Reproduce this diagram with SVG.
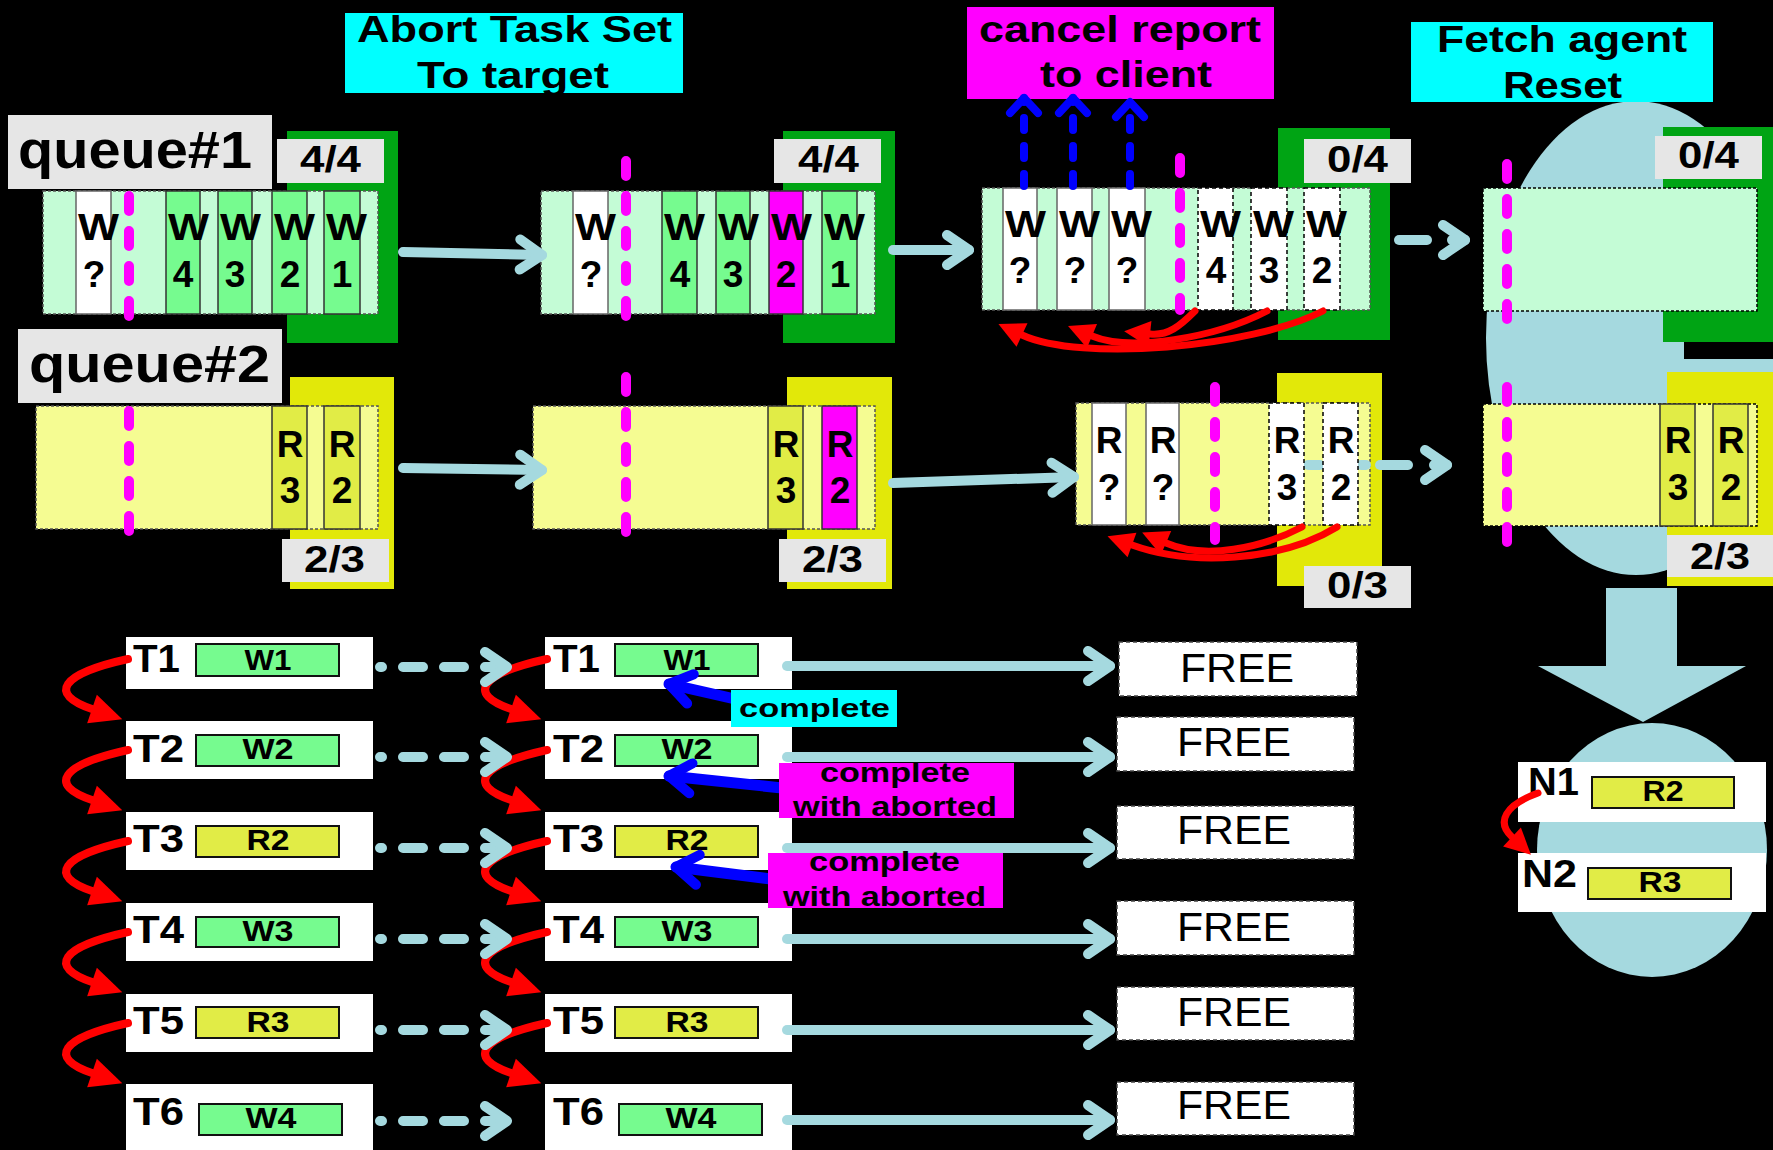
<svg xmlns="http://www.w3.org/2000/svg" width="1773" height="1150" viewBox="0 0 1773 1150">
<defs>
<style>
text{font-family:"Liberation Sans",Arial,sans-serif;font-weight:bold;fill:#000}
.t37{font-size:37px}
.t38{font-size:38px}
.t30{font-size:30px}
.mid{text-anchor:middle}
.reg{font-weight:normal}
.lbl{fill:#e6e6e6}
.cyan{fill:#00ffff}
.mag{fill:#ff00ff}
.gbr{fill:#00a414}
.ybr{fill:#e2e809}
.gstrip{fill:#c4fcd6;stroke:#555;stroke-width:1.5;stroke-dasharray:3 2}
.ystrip{fill:#f5fc92;stroke:#555;stroke-width:1.5;stroke-dasharray:3 2}
.gcell{fill:#76fb8f;stroke:#333;stroke-width:1.5}
.wcell{fill:#fff;stroke:#666;stroke-width:1.5}
.wcelld{fill:#fff;stroke:#000;stroke-width:1.5;stroke-dasharray:4 3}
.ycell{fill:#e1ec46;stroke:#333;stroke-width:1.5}
.mcell{fill:#ff00ff;stroke:#333;stroke-width:1.5}
.mdash{stroke:#ff00ff;stroke-width:10;stroke-linecap:round;stroke-dasharray:15 20;fill:none}
.lb{stroke:#a5d9df;stroke-width:10;stroke-linecap:round;fill:none}
.lbd{stroke:#a5d9df;stroke-width:10;stroke-linecap:round;fill:none;stroke-dasharray:20 21;stroke-dashoffset:18}
.red{stroke:#ff0000;stroke-width:8;fill:none;stroke-linecap:round}
.red6{stroke:#ff0000;stroke-width:7;fill:none;stroke-linecap:round}
.blue{stroke:#0000ff;stroke-width:11;fill:none;stroke-linecap:round}
.bdash{stroke:#0000ff;stroke-width:8;fill:none;stroke-linecap:round;stroke-dasharray:12 16}
.tbox{fill:#fff}
.gbar{fill:#76fb8f;stroke:#111;stroke-width:2}
.ybar{fill:#e1ec46;stroke:#111;stroke-width:2}
.free{fill:#fff;stroke:#444;stroke-width:1.5;stroke-dasharray:4 3}
.sky{fill:#a5d9df}
</style>
<marker id="lbHead" markerUnits="userSpaceOnUse" viewBox="-30 -20 40 40" markerWidth="40" markerHeight="40" refX="0" refY="0" orient="auto" overflow="visible">
<path d="M-22,-15 L0,0 L-22,15" fill="none" stroke="#a5d9df" stroke-width="10" stroke-linecap="round" stroke-linejoin="round"/>
</marker>
<marker id="blueHead" markerUnits="userSpaceOnUse" viewBox="-30 -20 40 40" markerWidth="40" markerHeight="40" refX="0" refY="0" orient="auto" overflow="visible">
<path d="M-22,-15 L0,0 L-22,15" fill="none" stroke="#0000ff" stroke-width="10" stroke-linecap="round" stroke-linejoin="round"/>
</marker>
<marker id="blueSmall" markerUnits="userSpaceOnUse" viewBox="-30 -20 40 40" markerWidth="40" markerHeight="40" refX="0" refY="0" orient="auto" overflow="visible">
<path d="M-15,-14 L0,0 L-15,14" fill="none" stroke="#0000ff" stroke-width="8" stroke-linecap="round" stroke-linejoin="round"/>
</marker>
<marker id="redBig" markerUnits="userSpaceOnUse" viewBox="-5 -20 45 40" markerWidth="45" markerHeight="40" refX="0" refY="0" orient="auto" overflow="visible">
<path d="M0,-15 L32,0 L0,15 z" fill="#ff0000"/>
</marker>
<marker id="redSmall" markerUnits="userSpaceOnUse" viewBox="-5 -20 45 40" markerWidth="45" markerHeight="40" refX="0" refY="0" orient="auto" overflow="visible">
<path d="M0,-13 L26,0 L0,13 z" fill="#ff0000"/>
</marker>
</defs>
<rect x="0" y="0" width="1773" height="1150" fill="#000"/>

<!-- background shapes -->
<g id="reset-ellipse">
<ellipse class="sky" cx="1636" cy="338" rx="150" ry="237"/>
</g>
<g id="reset-arrow">
<polygon class="sky" points="1606,588 1677,588 1677,666 1746,666 1643,722 1538,666 1606,666"/>
</g>
<g id="new-ellipse">
<ellipse class="sky" cx="1652" cy="850" rx="115" ry="127"/>
</g>

<!-- titles -->
<g id="abort-label">
<rect class="cyan" x="345" y="13" width="338" height="80"/>
<text class="t37" x="357" y="42" textLength="315" lengthAdjust="spacingAndGlyphs">Abort Task Set</text>
<text class="t37" x="417" y="88" textLength="192" lengthAdjust="spacingAndGlyphs">To target</text>
</g>
<g id="cancel-label">
<rect class="mag" x="967" y="7" width="307" height="92"/>
<text class="t37" x="979" y="42" textLength="282" lengthAdjust="spacingAndGlyphs">cancel report</text>
<text class="t37" x="1040" y="87" textLength="172" lengthAdjust="spacingAndGlyphs">to client</text>
</g>
<g id="fetch-label">
<rect class="cyan" x="1411" y="22" width="302" height="80"/>
<text class="t37" x="1437" y="52" textLength="250" lengthAdjust="spacingAndGlyphs">Fetch agent</text>
<text class="t37" x="1503" y="98" textLength="119" lengthAdjust="spacingAndGlyphs">Reset</text>
</g>
<g id="queue1-label">
<rect class="lbl" x="8" y="115" width="264" height="74"/>
<text x="18" y="168" font-size="51" textLength="234" lengthAdjust="spacingAndGlyphs">queue#1</text>
</g>
<g id="queue2-label">
<rect class="lbl" x="18" y="329" width="264" height="74"/>
<text x="29" y="382" font-size="51" textLength="241" lengthAdjust="spacingAndGlyphs">queue#2</text>
</g>

<!-- queue 1, column 1 -->
<g id="q1-c1">
<rect class="gbr" x="287" y="131" width="111" height="212"/>
<rect class="gstrip" x="43" y="191" width="335" height="123"/>
<rect class="wcell" x="76" y="191" width="35" height="123"/>
<rect class="gcell" x="166" y="191" width="34" height="123"/>
<rect class="gcell" x="218" y="191" width="34" height="123"/>
<rect class="gcell" x="272" y="191" width="35" height="123"/>
<rect class="gcell" x="324" y="191" width="36" height="123"/>
<rect class="lbl" x="277" y="139" width="107" height="44"/>
<text class="t37" x="300" y="172" textLength="61" lengthAdjust="spacingAndGlyphs">4/4</text>
<g class="t37">
<text x="78" y="240" textLength="41" lengthAdjust="spacingAndGlyphs">W</text><text class="mid" x="94" y="287">?</text>
<text x="168" y="240" textLength="41" lengthAdjust="spacingAndGlyphs">W</text><text class="mid" x="183" y="287">4</text>
<text x="220" y="240" textLength="41" lengthAdjust="spacingAndGlyphs">W</text><text class="mid" x="235" y="287">3</text>
<text x="274" y="240" textLength="41" lengthAdjust="spacingAndGlyphs">W</text><text class="mid" x="290" y="287">2</text>
<text x="326" y="240" textLength="41" lengthAdjust="spacingAndGlyphs">W</text><text class="mid" x="342" y="287">1</text>
</g>
<line class="mdash" x1="129" y1="196" x2="129" y2="320"/>
</g>

<!-- queue 2, column 1 -->
<g id="q2-c1">
<rect class="ybr" x="290" y="377" width="104" height="212"/>
<rect class="ystrip" x="36" y="406" width="342" height="123"/>
<rect class="ycell" x="272" y="406" width="35" height="123"/>
<rect class="ycell" x="324" y="406" width="36" height="123"/>
<rect class="lbl" x="282" y="539" width="107" height="43"/>
<text class="t37" x="304" y="572" textLength="61" lengthAdjust="spacingAndGlyphs">2/3</text>
<g class="t37 mid">
<text x="290" y="457">R</text><text x="290" y="503">3</text>
<text x="342" y="457">R</text><text x="342" y="503">2</text>
</g>
<line class="mdash" x1="129" y1="411" x2="129" y2="535"/>
</g>

<!-- queue 1, column 2 -->
<g id="q1-c2">
<rect class="gbr" x="783" y="131" width="112" height="212"/>
<rect class="gstrip" x="541" y="191" width="334" height="123"/>
<rect class="wcell" x="573" y="191" width="35" height="123"/>
<rect class="gcell" x="662" y="191" width="35" height="123"/>
<rect class="gcell" x="716" y="191" width="34" height="123"/>
<rect class="mcell" x="769" y="191" width="34" height="123"/>
<rect class="gcell" x="822" y="191" width="35" height="123"/>
<rect class="lbl" x="774" y="139" width="107" height="44"/>
<text class="t37" x="798" y="172" textLength="61" lengthAdjust="spacingAndGlyphs">4/4</text>
<g class="t37">
<text x="575" y="240" textLength="41" lengthAdjust="spacingAndGlyphs">W</text><text class="mid" x="591" y="287">?</text>
<text x="664" y="240" textLength="41" lengthAdjust="spacingAndGlyphs">W</text><text class="mid" x="680" y="287">4</text>
<text x="718" y="240" textLength="41" lengthAdjust="spacingAndGlyphs">W</text><text class="mid" x="733" y="287">3</text>
<text x="771" y="240" textLength="41" lengthAdjust="spacingAndGlyphs">W</text><text class="mid" x="786" y="287">2</text>
<text x="824" y="240" textLength="41" lengthAdjust="spacingAndGlyphs">W</text><text class="mid" x="840" y="287">1</text>
</g>
<line class="mdash" x1="626" y1="161" x2="626" y2="320"/>
</g>

<!-- queue 2, column 2 -->
<g id="q2-c2">
<rect class="ybr" x="787" y="377" width="105" height="212"/>
<rect class="ystrip" x="533" y="406" width="342" height="123"/>
<rect class="ycell" x="768" y="406" width="35" height="123"/>
<rect class="mcell" x="822" y="406" width="35" height="123"/>
<rect class="lbl" x="779" y="539" width="107" height="43"/>
<text class="t37" x="802" y="572" textLength="61" lengthAdjust="spacingAndGlyphs">2/3</text>
<g class="t37 mid">
<text x="786" y="457">R</text><text x="786" y="503">3</text>
<text x="840" y="457">R</text><text x="840" y="503">2</text>
</g>
<line class="mdash" x1="626" y1="377" x2="626" y2="534"/>
</g>

<!-- queue 1, column 3 -->
<g id="q1-c3">
<rect class="gbr" x="1278" y="128" width="112" height="212"/>
<rect class="gstrip" x="982" y="188" width="388" height="122"/>
<rect class="wcell" x="1003" y="188" width="34" height="122"/>
<rect class="wcell" x="1057" y="188" width="35" height="122"/>
<rect class="wcell" x="1109" y="188" width="36" height="122"/>
<rect class="wcelld" x="1198" y="188" width="35" height="122"/>
<rect class="wcelld" x="1251" y="188" width="36" height="122"/>
<rect class="wcelld" x="1304" y="188" width="36" height="122"/>
<rect class="lbl" x="1304" y="139" width="107" height="44"/>
<text class="t37" x="1327" y="172" textLength="61" lengthAdjust="spacingAndGlyphs">0/4</text>
<g class="t37">
<text x="1005" y="237" textLength="41" lengthAdjust="spacingAndGlyphs">W</text><text class="mid" x="1020" y="283">?</text>
<text x="1059" y="237" textLength="41" lengthAdjust="spacingAndGlyphs">W</text><text class="mid" x="1075" y="283">?</text>
<text x="1111" y="237" textLength="41" lengthAdjust="spacingAndGlyphs">W</text><text class="mid" x="1127" y="283">?</text>
<text x="1200" y="237" textLength="41" lengthAdjust="spacingAndGlyphs">W</text><text class="mid" x="1216" y="283">4</text>
<text x="1253" y="237" textLength="41" lengthAdjust="spacingAndGlyphs">W</text><text class="mid" x="1269" y="283">3</text>
<text x="1306" y="237" textLength="41" lengthAdjust="spacingAndGlyphs">W</text><text class="mid" x="1322" y="283">2</text>
</g>
<line class="mdash" x1="1180" y1="158" x2="1180" y2="310"/>
</g>

<!-- queue 2, column 3 -->
<g id="q2-c3">
<rect class="ybr" x="1277" y="373" width="105" height="213"/>
<rect class="ystrip" x="1076" y="403" width="294" height="122"/>
<rect class="wcell" x="1092" y="403" width="34" height="122"/>
<rect class="wcell" x="1146" y="403" width="33" height="122"/>
<line class="lb" x1="1308" y1="465" x2="1320" y2="465"/>
<line class="lb" x1="1361" y1="465" x2="1366" y2="465"/>
<rect class="wcelld" x="1269" y="403" width="35" height="122"/>
<rect class="wcelld" x="1323" y="403" width="35" height="122"/>
<rect class="lbl" x="1304" y="566" width="107" height="42"/>
<text class="t37" x="1327" y="598" textLength="61" lengthAdjust="spacingAndGlyphs">0/3</text>
<g class="t37 mid">
<text x="1109" y="453">R</text><text x="1109" y="500">?</text>
<text x="1163" y="453">R</text><text x="1163" y="500">?</text>
<text x="1287" y="453">R</text><text x="1287" y="500">3</text>
<text x="1341" y="453">R</text><text x="1341" y="500">2</text>
</g>
<line class="mdash" x1="1215" y1="387" x2="1215" y2="540"/>
</g>

<!-- queue 1, column 4 -->
<g id="q1-c4">
<rect class="gbr" x="1663" y="127" width="110" height="215"/>
<rect x="1684" y="342" width="89" height="17" fill="#000"/>
<rect class="gstrip" x="1483" y="188" width="274" height="123" style="stroke:#000"/>
<rect class="lbl" x="1655" y="136" width="107" height="43"/>
<text class="t37" x="1678" y="168" textLength="61" lengthAdjust="spacingAndGlyphs">0/4</text>
<line class="mdash" x1="1507" y1="164" x2="1507" y2="322"/>
</g>

<!-- queue 2, column 4 -->
<g id="q2-c4">
<rect class="ybr" x="1667" y="372" width="106" height="214"/>
<rect class="ystrip" x="1483" y="404" width="274" height="122" style="stroke:#000"/>
<rect class="ycell" x="1660" y="404" width="35" height="122"/>
<rect class="ycell" x="1713" y="404" width="35" height="122"/>
<rect class="lbl" x="1667" y="535" width="106" height="42"/>
<text class="t37" x="1690" y="569" textLength="60" lengthAdjust="spacingAndGlyphs">2/3</text>
<g class="t37 mid">
<text x="1678" y="453">R</text><text x="1678" y="500">3</text>
<text x="1731" y="453">R</text><text x="1731" y="500">2</text>
</g>
<line class="mdash" x1="1507" y1="387" x2="1507" y2="542"/>
</g>

<!-- task list column 1 -->
<g id="tasks-c1">
<rect class="tbox" x="126" y="637" width="247" height="52"/>
<rect class="gbar" x="196" y="644" width="143" height="32"/>
<text class="t38" x="133" y="672" textLength="47" lengthAdjust="spacingAndGlyphs">T1</text>
<text class="t30 mid" x="268" y="670" textLength="47" lengthAdjust="spacingAndGlyphs">W1</text>
<rect class="tbox" x="126" y="721" width="247" height="58"/>
<rect class="gbar" x="196" y="735" width="143" height="31"/>
<text class="t38" x="133" y="762" textLength="51" lengthAdjust="spacingAndGlyphs">T2</text>
<text class="t30 mid" x="268" y="759" textLength="51" lengthAdjust="spacingAndGlyphs">W2</text>
<rect class="tbox" x="126" y="812" width="247" height="58"/>
<rect class="ybar" x="196" y="826" width="143" height="31"/>
<text class="t38" x="133" y="852" textLength="51" lengthAdjust="spacingAndGlyphs">T3</text>
<text class="t30 mid" x="268" y="850" textLength="43" lengthAdjust="spacingAndGlyphs">R2</text>
<rect class="tbox" x="126" y="903" width="247" height="58"/>
<rect class="gbar" x="196" y="917" width="143" height="30"/>
<text class="t38" x="133" y="943" textLength="51" lengthAdjust="spacingAndGlyphs">T4</text>
<text class="t30 mid" x="268" y="941" textLength="51" lengthAdjust="spacingAndGlyphs">W3</text>
<rect class="tbox" x="126" y="994" width="247" height="58"/>
<rect class="ybar" x="196" y="1007" width="143" height="31"/>
<text class="t38" x="133" y="1034" textLength="51" lengthAdjust="spacingAndGlyphs">T5</text>
<text class="t30 mid" x="268" y="1032" textLength="43" lengthAdjust="spacingAndGlyphs">R3</text>
<rect class="tbox" x="126" y="1084" width="247" height="70"/>
<rect class="gbar" x="199" y="1104" width="143" height="31"/>
<text class="t38" x="133" y="1125" textLength="51" lengthAdjust="spacingAndGlyphs">T6</text>
<text class="t30 mid" x="271" y="1128" textLength="51" lengthAdjust="spacingAndGlyphs">W4</text>
</g>

<!-- task list column 2 -->
<g id="tasks-c2">
<rect class="tbox" x="545" y="637" width="247" height="52"/>
<rect class="gbar" x="615" y="644" width="143" height="32"/>
<text class="t38" x="553" y="672" textLength="47" lengthAdjust="spacingAndGlyphs">T1</text>
<text class="t30 mid" x="687" y="670" textLength="47" lengthAdjust="spacingAndGlyphs">W1</text>
<rect class="tbox" x="545" y="721" width="247" height="58"/>
<rect class="gbar" x="615" y="735" width="143" height="31"/>
<text class="t38" x="553" y="762" textLength="51" lengthAdjust="spacingAndGlyphs">T2</text>
<text class="t30 mid" x="687" y="759" textLength="51" lengthAdjust="spacingAndGlyphs">W2</text>
<rect class="tbox" x="545" y="812" width="247" height="58"/>
<rect class="ybar" x="615" y="826" width="143" height="31"/>
<text class="t38" x="553" y="852" textLength="51" lengthAdjust="spacingAndGlyphs">T3</text>
<text class="t30 mid" x="687" y="850" textLength="43" lengthAdjust="spacingAndGlyphs">R2</text>
<rect class="tbox" x="545" y="903" width="247" height="58"/>
<rect class="gbar" x="615" y="917" width="143" height="30"/>
<text class="t38" x="553" y="943" textLength="51" lengthAdjust="spacingAndGlyphs">T4</text>
<text class="t30 mid" x="687" y="941" textLength="51" lengthAdjust="spacingAndGlyphs">W3</text>
<rect class="tbox" x="545" y="994" width="247" height="58"/>
<rect class="ybar" x="615" y="1007" width="143" height="31"/>
<text class="t38" x="553" y="1034" textLength="51" lengthAdjust="spacingAndGlyphs">T5</text>
<text class="t30 mid" x="687" y="1032" textLength="43" lengthAdjust="spacingAndGlyphs">R3</text>
<rect class="tbox" x="545" y="1084" width="247" height="70"/>
<rect class="gbar" x="619" y="1104" width="143" height="31"/>
<text class="t38" x="553" y="1125" textLength="51" lengthAdjust="spacingAndGlyphs">T6</text>
<text class="t30 mid" x="691" y="1128" textLength="51" lengthAdjust="spacingAndGlyphs">W4</text>
</g>

<!-- free slots -->
<g id="free-slots">
<rect class="free" x="1119" y="642" width="238" height="54"/>
<text class="reg" font-size="40" x="1180" y="682" textLength="114" lengthAdjust="spacingAndGlyphs">FREE</text>
<rect class="free" x="1117" y="717" width="237" height="54"/>
<text class="reg" font-size="40" x="1177" y="756" textLength="114" lengthAdjust="spacingAndGlyphs">FREE</text>
<rect class="free" x="1117" y="806" width="237" height="53"/>
<text class="reg" font-size="40" x="1177" y="844" textLength="114" lengthAdjust="spacingAndGlyphs">FREE</text>
<rect class="free" x="1117" y="901" width="237" height="54"/>
<text class="reg" font-size="40" x="1177" y="941" textLength="114" lengthAdjust="spacingAndGlyphs">FREE</text>
<rect class="free" x="1117" y="987" width="237" height="53"/>
<text class="reg" font-size="40" x="1177" y="1026" textLength="114" lengthAdjust="spacingAndGlyphs">FREE</text>
<rect class="free" x="1117" y="1082" width="237" height="53"/>
<text class="reg" font-size="40" x="1177" y="1119" textLength="114" lengthAdjust="spacingAndGlyphs">FREE</text>
</g>

<!-- new tasks -->
<g id="n-list">
<rect class="tbox" x="1518" y="762" width="248" height="60"/>
<rect class="ybar" x="1592" y="777" width="142" height="31"/>
<text class="t38" x="1528" y="795" textLength="51" lengthAdjust="spacingAndGlyphs">N1</text>
<text class="t30 mid" x="1663" y="801" textLength="41" lengthAdjust="spacingAndGlyphs">R2</text>
<rect class="tbox" x="1518" y="853" width="248" height="59"/>
<rect class="ybar" x="1588" y="868" width="143" height="31"/>
<text class="t38" x="1522" y="887" textLength="55" lengthAdjust="spacingAndGlyphs">N2</text>
<text class="t30 mid" x="1660" y="892" textLength="43" lengthAdjust="spacingAndGlyphs">R3</text>
</g>

<!-- connectors -->
<g id="connectors">
<line class="lb" x1="403" y1="252" x2="542" y2="255" marker-end="url(#lbHead)"/>
<line class="lb" x1="403" y1="468" x2="542" y2="470" marker-end="url(#lbHead)"/>
<line class="lb" x1="893" y1="250" x2="969" y2="250" marker-end="url(#lbHead)"/>
<line class="lb" x1="893" y1="483" x2="1074" y2="477" marker-end="url(#lbHead)"/>
<line class="lb" x1="1399" y1="240" x2="1427" y2="240"/>
<line class="lb" x1="1452" y1="240" x2="1465" y2="240" marker-end="url(#lbHead)"/>
<line class="lb" x1="1380" y1="465" x2="1408" y2="465"/>
<line class="lb" x1="1434" y1="465" x2="1447" y2="465" marker-end="url(#lbHead)"/>

<path class="bdash" d="M1024,186 L1024,98" marker-end="url(#blueSmall)"/>
<path class="bdash" d="M1073,186 L1073,98" marker-end="url(#blueSmall)"/>
<path class="bdash" d="M1130,186 L1130,102" marker-end="url(#blueSmall)"/>

<path class="red6" d="M1323,311 C1250,348 1080,362 1022,335" marker-end="url(#redSmall)"/>
<path class="red6" d="M1267,311 C1215,338 1130,352 1092,336" marker-end="url(#redSmall)"/>
<path class="red6" d="M1195,311 C1180,326 1168,336 1150,334" marker-end="url(#redSmall)"/>
<path class="red6" d="M1337,527 C1280,562 1190,566 1132,545" marker-end="url(#redSmall)"/>
<path class="red6" d="M1302,527 C1262,548 1205,560 1166,543" marker-end="url(#redSmall)"/>

<path class="red" d="M128,659 C60,674 48,694 92,709" marker-end="url(#redBig)"/>
<path class="red" d="M128,750 C60,765 48,785 92,800" marker-end="url(#redBig)"/>
<path class="red" d="M128,841 C60,856 48,876 92,891" marker-end="url(#redBig)"/>
<path class="red" d="M128,932 C60,947 48,967 92,982" marker-end="url(#redBig)"/>
<path class="red" d="M128,1023 C60,1038 48,1058 92,1073" marker-end="url(#redBig)"/>
<path class="red" d="M547,659 C479,674 467,694 511,709" marker-end="url(#redBig)"/>
<path class="red" d="M547,750 C479,765 467,785 511,800" marker-end="url(#redBig)"/>
<path class="red" d="M547,841 C479,856 467,876 511,891" marker-end="url(#redBig)"/>
<path class="red" d="M547,932 C479,947 467,967 511,982" marker-end="url(#redBig)"/>
<path class="red" d="M547,1023 C479,1038 467,1058 511,1073" marker-end="url(#redBig)"/>
<path class="red6" d="M1538,793 C1505,805 1496,822 1512,837" marker-end="url(#redSmall)"/>

<line class="lbd" x1="380" y1="667" x2="507" y2="667" marker-end="url(#lbHead)"/>
<line class="lbd" x1="380" y1="757" x2="507" y2="757" marker-end="url(#lbHead)"/>
<line class="lbd" x1="380" y1="848" x2="507" y2="848" marker-end="url(#lbHead)"/>
<line class="lbd" x1="380" y1="939" x2="507" y2="939" marker-end="url(#lbHead)"/>
<line class="lbd" x1="380" y1="1030" x2="507" y2="1030" marker-end="url(#lbHead)"/>
<line class="lbd" x1="380" y1="1121" x2="507" y2="1121" marker-end="url(#lbHead)"/>

<line class="lb" x1="787" y1="666" x2="1110" y2="666" marker-end="url(#lbHead)"/>
<line class="lb" x1="787" y1="757" x2="1110" y2="757" marker-end="url(#lbHead)"/>
<line class="lb" x1="787" y1="848" x2="1110" y2="848" marker-end="url(#lbHead)"/>
<line class="lb" x1="787" y1="939" x2="1110" y2="939" marker-end="url(#lbHead)"/>
<line class="lb" x1="787" y1="1030" x2="1110" y2="1030" marker-end="url(#lbHead)"/>
<line class="lb" x1="787" y1="1120" x2="1110" y2="1120" marker-end="url(#lbHead)"/>

<line class="blue" x1="735" y1="699" x2="669" y2="684" marker-end="url(#blueHead)"/>
<line class="blue" x1="782" y1="788" x2="669" y2="776" marker-end="url(#blueHead)"/>
<line class="blue" x1="771" y1="879" x2="676" y2="867" marker-end="url(#blueHead)"/>
</g>

<!-- status labels -->
<g id="complete-label">
<rect class="cyan" x="731" y="690" width="166" height="37"/>
<text x="739" y="717" font-size="26" textLength="151" lengthAdjust="spacingAndGlyphs">complete</text>
</g>
<g id="aborted-label-1">
<rect class="mag" x="779" y="763" width="235" height="55"/>
<text x="820" y="782" font-size="28" textLength="150" lengthAdjust="spacingAndGlyphs">complete</text>
<text x="793" y="816" font-size="28" textLength="204" lengthAdjust="spacingAndGlyphs">with aborted</text>
</g>
<g id="aborted-label-2">
<rect class="mag" x="768" y="853" width="235" height="55"/>
<text x="809" y="871" font-size="28" textLength="151" lengthAdjust="spacingAndGlyphs">complete</text>
<text x="783" y="906" font-size="28" textLength="203" lengthAdjust="spacingAndGlyphs">with aborted</text>
</g>
</svg>
